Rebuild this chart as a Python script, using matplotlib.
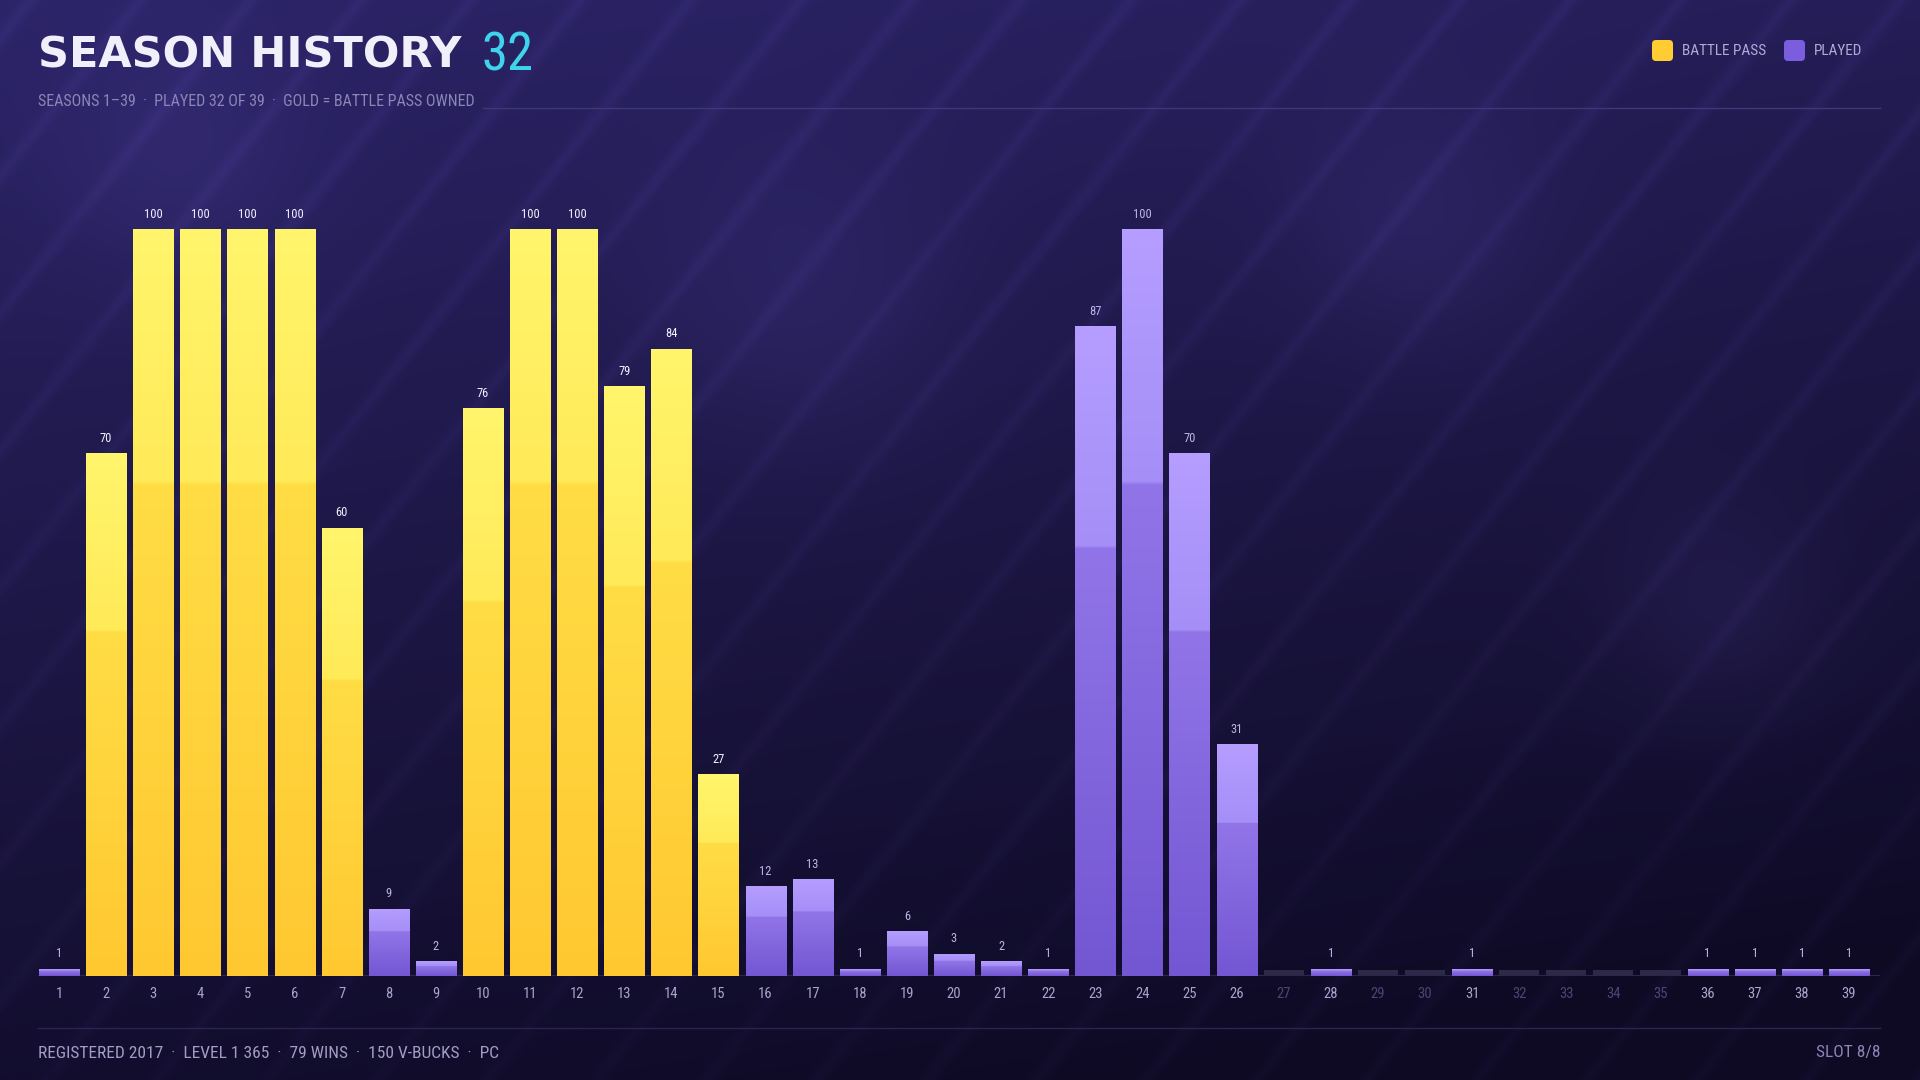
import numpy as np
import matplotlib
matplotlib.use("Agg")
import matplotlib.pyplot as plt
from matplotlib.colors import to_rgb
from matplotlib.patches import FancyBboxPatch
from matplotlib import font_manager

# data
seasons = list(range(1, 40))
values = [1, 70, 100, 100, 100, 100, 60, 9, 2, 76, 100, 100, 79, 84, 27,
          12, 13, 1, 6, 3, 2, 1, 87, 100, 70, 31, 0, 1, 0, 0, 1, 0, 0, 0, 0,
          1, 1, 1, 1]
battle_pass = [2, 3, 4, 5, 6, 7, 10, 11, 12, 13, 14, 15]

title = "SEASON HISTORY"
title_count = "32"
subtitle = "SEASONS 1\u201339  \u00b7  PLAYED 32 OF 39  \u00b7  GOLD = BATTLE PASS OWNED"
footer = "REGISTERED 2017  \u00b7  LEVEL 1 365  \u00b7  79 WINS  \u00b7  150 V-BUCKS  \u00b7  PC"
slot = "SLOT 8/8"

# pick a condensed face if there is one
names = {f.name for f in font_manager.fontManager.ttflist}
narrow_fam = "DejaVu Sans"
for cand in ["Liberation Sans Narrow", "Roboto Condensed", "Open Sans Condensed",
             "Noto Sans Condensed", "DejaVu Sans Condensed"]:
    if cand in names:
        narrow_fam = cand
        break
has_cond = any(f.name == "DejaVu Sans" and f.stretch == "condensed"
               for f in font_manager.fontManager.ttflist)
NF = dict(family=narrow_fam, fontstretch="condensed")
scale = 1.0 if (narrow_fam != "DejaVu Sans" or has_cond) else 0.86

W, H = 1920, 1080

fig = plt.figure(figsize=(19.2, 10.8), dpi=100)

# background: gradient + diagonal stripes + soft glows
bg = fig.add_axes([0, 0, 1, 1])
yy, xx = np.mgrid[0:H, 0:W].astype(float)
ty = yy / H
tx = xx / W
top = np.array(to_rgb("#2c2468"))
bot = np.array(to_rgb("#0e0a24"))
k = np.clip(ty * 0.85 + tx * 0.25, 0, 1)[..., None]
img = top * (1 - k) + bot * k
s = (xx + yy * 0.8) % 110
stripe = np.exp(-((s - 30) / 9.0) ** 2)
img = img + stripe[..., None] * np.array([0.026, 0.022, 0.045]) * (1 - 0.5 * ty[..., None])
for cx, cy, r in [(180, 160, 90), (800, 300, 110), (1420, 230, 90), (1720, 610, 80)]:
    g = np.exp(-((xx - cx) ** 2 + (yy - cy) ** 2) / (2 * r ** 2))
    img = img + g[..., None] * np.array([0.035, 0.03, 0.06])
bg.imshow(np.clip(img, 0, 1), extent=[0, W, H, 0], aspect="auto")
bg.set_xlim(0, W)
bg.set_ylim(H, 0)
bg.axis("off")

# header / footer text
bg.text(38, 56, title, color="#f1eff9", fontsize=31, fontweight="heavy",
        family="DejaVu Sans", va="center", ha="left")
bg.text(481, 56, title_count, color="#3fd3ec", fontsize=38 * scale, va="center",
        ha="left", **NF)
sub = bg.text(38, 101, subtitle, color="#8c85b6", fontsize=11.5 * scale, va="center",
              ha="left", **NF)
fig.canvas.draw()
sub_end = bg.transData.inverted().transform(
    sub.get_window_extent(fig.canvas.get_renderer()).get_points())[1, 0]
bg.plot([sub_end + 8, 1880], [108, 108], color="#3e3778", lw=1)
bg.plot([38, 1880], [1028, 1028], color="#2a2450", lw=1)
bg.text(38, 1053, footer, color="#a39dc6", fontsize=12.5 * scale, va="center",
        ha="left", **NF)
bg.text(1880, 1053, slot, color="#8c85b6", fontsize=12.5 * scale, va="center",
        ha="right", **NF)

# legend
for x0, col, lab in [(1652, "#ffcc33", "BATTLE PASS"), (1784, "#7b5de0", "PLAYED")]:
    bg.add_patch(FancyBboxPatch((x0, 40), 21, 21, boxstyle="round,pad=0,rounding_size=4",
                                facecolor=col, edgecolor="none"))
    bg.text(x0 + 30, 51, lab, color="#b0aad6", fontsize=11 * scale, va="center",
            ha="left", **NF)

# chart axes
base_y, top_y = 976, 229
ax = fig.add_axes([38 / W, 1 - base_y / H, 1842 / W, (base_y - top_y) / H])
ax.patch.set_alpha(0)
for sp in ax.spines.values():
    sp.set_visible(False)
ax.axhline(0, color="#2b2552", lw=1.5)
ax.set_yticks([])
ax.set_xticks(seasons)
ax.set_xticklabels([str(s_) for s_ in seasons], fontsize=10.5 * scale, **NF)
for lab, v in zip(ax.get_xticklabels(), values):
    lab.set_color("#aaa4cc" if v > 0 else "#4c4574")
ax.tick_params(axis="x", length=0, pad=8)

gold_cols = ["#fff56c", "#ffea58", "#ffdd45", "#ffc831"]
purp_cols = ["#b59eff", "#a58ef6", "#9175e8", "#7356d2"]


def grad(cols, n=200):
    c = [np.array(to_rgb(x)) for x in cols]
    t = np.linspace(0, 1, n)
    out = np.zeros((n, 1, 3))
    for i, ti in enumerate(t):
        if ti < 0.34:
            f = ti / 0.34
            out[i, 0] = c[0] * (1 - f) + c[1] * f
        else:
            f = (ti - 0.34) / 0.66
            out[i, 0] = c[2] * (1 - f) + c[3] * f
    return out


bw = 0.85
heights = [v if v > 0 else 0.8 for v in values]
bars = ax.bar(seasons, heights, width=bw, color="none", edgecolor="none")
for s_, v, b in zip(seasons, values, bars):
    h = b.get_height()
    x0 = b.get_x()
    if v == 0:
        ax.bar(s_, h, width=bw, color="#2e2944", edgecolor="none")
        continue
    cols = gold_cols if s_ in battle_pass else purp_cols
    im = ax.imshow(grad(cols), extent=[x0, x0 + bw, 0, h], aspect="auto",
                   zorder=2, interpolation="bilinear")
    im.set_clip_path(b)
    lc = "#f3f0ff" if s_ in battle_pass else "#bdb5e6"
    ax.annotate(str(v), (s_, h), xytext=(0, 6), textcoords="offset points",
                ha="center", va="bottom", fontsize=9 * scale, color=lc,
                annotation_clip=False, **NF)

ax.set_xlim(0.554, 39.66)
ax.set_ylim(0, 100)

fig.savefig("out.png", dpi=100, facecolor="#140f33")
